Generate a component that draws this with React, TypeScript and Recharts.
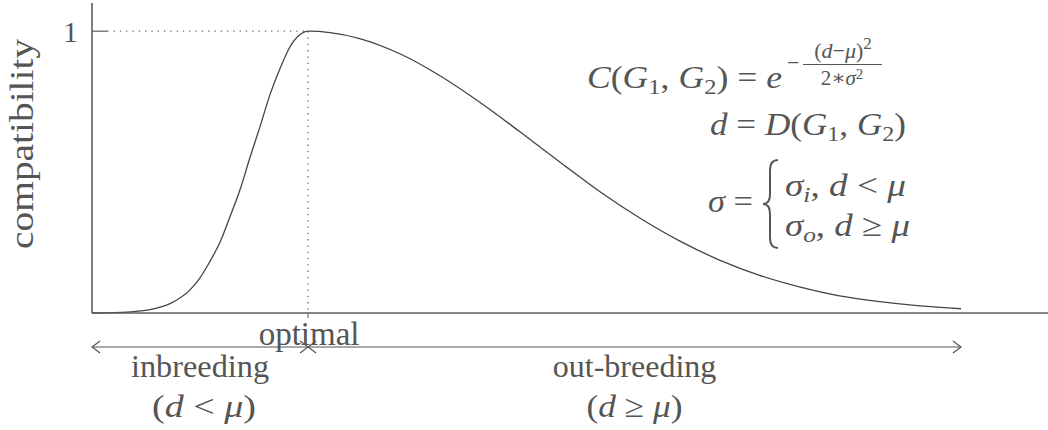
import React from 'react';
import { LineChart, Line, XAxis, YAxis, ReferenceLine } from 'recharts';

// genetic distance d (axis spans 0..100), optimum at MU
const distance = [0, 1.9, 4.0, 6.1, 8.2, 10.3, 11.3, 12.3, 13.4, 14.4, 15.5, 16.5, 17.6, 18.6, 19.7, 20.7, 21.8, 22.6, 24.9, 28.0, 32.2, 36.4, 40.6, 44.8, 49.0, 53.1, 57.3, 61.5, 65.7, 69.9, 74.1, 78.2, 82.4, 86.6, 90.9];
const compatibility = [0.0, 0.001, 0.004, 0.012, 0.034, 0.084, 0.125, 0.181, 0.252, 0.339, 0.439, 0.549, 0.664, 0.773, 0.87, 0.944, 0.989, 1.0, 0.995, 0.974, 0.92, 0.842, 0.747, 0.642, 0.534, 0.431, 0.337, 0.255, 0.187, 0.133, 0.092, 0.061, 0.04, 0.025, 0.015];
const yTicks = [1];
const MU = 22.6;
const D_END = 90.9;
const X_MAX = 100;
const Y_MAX = 1.1;

const regionLabels = ['inbreeding', 'out-breeding'];
const optimumLabel = 'optimal';
const yLabel = 'compatibility';

const data = distance.map((d, i) => ({ d, c: compatibility[i] }));

const W = 1048;
const H = 430;
const MARGIN = { top: 3, right: 0, bottom: 87, left: 0 };
const Y_AXIS_W = 92;
const X_AXIS_H = 30;
const PLOT_LEFT = MARGIN.left + Y_AXIS_W;
const PLOT_W = W - PLOT_LEFT - MARGIN.right;
const PLOT_TOP = MARGIN.top;
const PLOT_H = H - MARGIN.top - MARGIN.bottom - X_AXIS_H;

const xPx = (d: number) => PLOT_LEFT + (d / X_MAX) * PLOT_W;
const yPx = (v: number) => PLOT_TOP + ((Y_MAX - v) / Y_MAX) * PLOT_H;

const FONT = "'Liberation Serif', 'DejaVu Serif', serif";
const INK = '#555555';
const AXIS = '#5c5c5c';

const Arrow = ({ x, y, dir }: { x: number; y: number; dir: 1 | -1 }) => (
  <polyline
    points={`${x - dir * 8},${y - 6} ${x},${y} ${x - dir * 8},${y + 6}`}
    fill="none"
    stroke={INK}
    strokeWidth={1.2}
  />
);

const Overlay = () => {
  const ay = yPx(0) + 34;
  const x0 = xPx(0);
  const xm = xPx(MU);
  const x1 = xPx(D_END);
  const inbreedCx = (x0 + xm) / 2;
  const outCx = (xm + x1) / 2;
  const it = { fontStyle: 'italic' as const };
  const adj = 'spacingAndGlyphs';
  return (
    <svg
      width={W}
      height={H}
      style={{ position: 'absolute', left: 0, top: 0, pointerEvents: 'none' }}
      fontFamily={FONT}
      fill={INK}
    >
      {/* y label */}
      <text
        transform={`translate(33, ${yPx(0.6)}) rotate(-90)`}
        textAnchor="middle"
        fontSize={34}
        textLength={210}
        lengthAdjust={adj}
      >
        {yLabel}
      </text>

      {/* arrows */}
      <line x1={x0} y1={ay} x2={x1} y2={ay} stroke={INK} strokeWidth={1.2} />
      <Arrow x={x0} y={ay} dir={-1} />
      <Arrow x={xm} y={ay} dir={1} />
      <Arrow x={xm} y={ay} dir={-1} />
      <Arrow x={x1} y={ay} dir={1} />

      <text x={xm + 1} y={ay - 2} textAnchor="middle" fontSize={33}>
        {optimumLabel}
      </text>
      <text x={inbreedCx} y={ay + 30} textAnchor="middle" fontSize={32} textLength={138} lengthAdjust={adj}>
        {regionLabels[0]}
      </text>
      <text x={inbreedCx + 4} y={ay + 70} textAnchor="middle" fontSize={32} textLength={104} lengthAdjust={adj}>
        (<tspan {...it}>d</tspan> &lt; <tspan {...it}>μ</tspan>)
      </text>
      <text x={outCx} y={ay + 30} textAnchor="middle" fontSize={32}>
        {regionLabels[1]}
      </text>
      <text x={outCx} y={ay + 70} textAnchor="middle" fontSize={32} textLength={96} lengthAdjust={adj}>
        (<tspan {...it}>d</tspan> ≥ <tspan {...it}>μ</tspan>)
      </text>

      {/* formula line 1 */}
      <text x={587} y={88} fontSize={32} textLength={195} lengthAdjust={adj}>
        <tspan {...it}>C</tspan>(<tspan {...it}>G</tspan>
        <tspan fontSize={22} dy={6}>1</tspan>
        <tspan dy={-6}>, </tspan>
        <tspan {...it}>G</tspan>
        <tspan fontSize={22} dy={6}>2</tspan>
        <tspan dy={-6}>) = </tspan>
        <tspan {...it}>e</tspan>
      </text>
      <text x={787} y={70} fontSize={22}>−</text>
      <text x={843} y={58} fontSize={22} textAnchor="middle">
        (<tspan {...it}>d</tspan>−<tspan {...it}>μ</tspan>)<tspan fontSize={17} dy={-9}>2</tspan>
      </text>
      <line x1={803} y1={64.5} x2={882} y2={64.5} stroke={INK} strokeWidth={1} />
      <text x={842} y={85} fontSize={21} textAnchor="middle">
        2∗<tspan {...it}>σ</tspan><tspan fontSize={15} dy={-6}>2</tspan>
      </text>

      {/* formula line 2 */}
      <text x={710} y={135} fontSize={32} textLength={196} lengthAdjust={adj}>
        <tspan {...it}>d</tspan> = <tspan {...it}>D</tspan>(<tspan {...it}>G</tspan>
        <tspan fontSize={22} dy={6}>1</tspan>
        <tspan dy={-6}>, </tspan>
        <tspan {...it}>G</tspan>
        <tspan fontSize={22} dy={6}>2</tspan>
        <tspan dy={-6}>)</tspan>
      </text>

      {/* formula line 3 */}
      <text x={708} y={212} fontSize={32} textLength={45} lengthAdjust={adj}>
        <tspan {...it}>σ</tspan> =
      </text>
      <path
        d="M778,160 Q770,160 770,170 L770,194 Q770,204 763,204 Q770,204 770,214 L770,238 Q770,248 778,248"
        fill="none"
        stroke={INK}
        strokeWidth={2}
      />
      <text x={785} y={196} fontSize={32} textLength={121} lengthAdjust={adj}>
        <tspan {...it}>σ</tspan>
        <tspan fontSize={22} dy={6} {...it}>i</tspan>
        <tspan dy={-6}>, </tspan>
        <tspan {...it}>d</tspan> &lt; <tspan {...it}>μ</tspan>
      </text>
      <text x={785} y={236} fontSize={32} textLength={125} lengthAdjust={adj}>
        <tspan {...it}>σ</tspan>
        <tspan fontSize={22} dy={6} {...it}>o</tspan>
        <tspan dy={-6}>, </tspan>
        <tspan {...it}>d</tspan> ≥ <tspan {...it}>μ</tspan>
      </text>
    </svg>
  );
};

export default function App() {
  return (
    <div style={{ position: 'absolute', left: 0, top: 0, width: W, height: H, background: '#fff' }}>
      <LineChart width={W} height={H} data={data} margin={MARGIN}>
        <XAxis
          dataKey="d"
          type="number"
          domain={[0, X_MAX]}
          ticks={[MU]}
          tickFormatter={() => ''}
          tickSize={5}
          height={X_AXIS_H}
          axisLine={{ stroke: AXIS, strokeWidth: 1.6 }}
          tickLine={{ stroke: AXIS, strokeWidth: 1 }}
        />
        <YAxis
          type="number"
          domain={[0, Y_MAX]}
          ticks={yTicks}
          width={Y_AXIS_W}
          tickLine={false}
          tickSize={12}
          tickMargin={2}
          axisLine={{ stroke: AXIS, strokeWidth: 1.6 }}
          tick={{ fill: INK, fontSize: 30, fontFamily: FONT }}
        />
        <ReferenceLine
          segment={[{ x: 0, y: 1 }, { x: 1.6, y: 1 }]}
          stroke={AXIS}
          strokeWidth={1.2}
        />
        <ReferenceLine
          segment={[{ x: 1.6, y: 1 }, { x: MU, y: 1 }]}
          stroke="#6a6a6a"
          strokeWidth={1.3}
          strokeDasharray="1.3 5"
        />
        <ReferenceLine
          segment={[{ x: MU, y: 1 }, { x: MU, y: 0 }]}
          stroke="#6a6a6a"
          strokeWidth={1.3}
          strokeDasharray="1.3 5"
        />
        <Line
          type="monotone"
          dataKey="c"
          stroke="#444444"
          strokeWidth={1.3}
          dot={false}
          isAnimationActive={false}
        />
      </LineChart>
      <Overlay />
    </div>
  );
}
